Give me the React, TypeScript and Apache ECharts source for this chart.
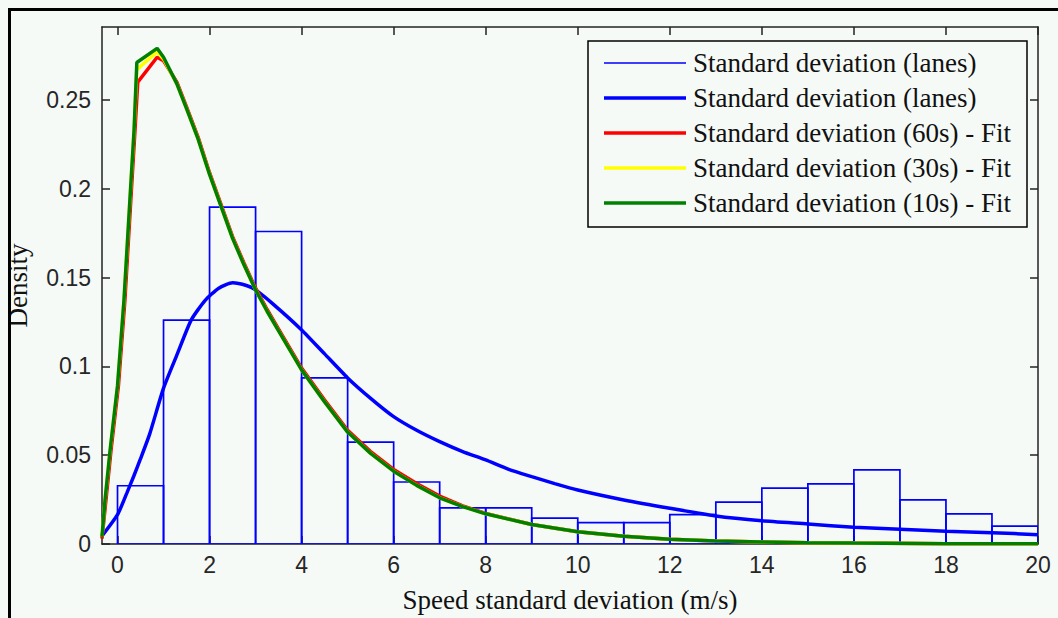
import React, { useEffect, useRef } from "react";
import * as echarts from "echarts";

// ---- data ----
const binStarts = [0, 1, 2, 3, 4, 5, 6, 7, 8, 9, 10, 11, 12, 13, 14, 15, 16, 17, 18, 19];
const binWidth = 1;
const binHeights = [
  0.0328, 0.126, 0.1896, 0.1759, 0.0935, 0.0573, 0.0349, 0.0203, 0.0203, 0.0146,
  0.012, 0.012, 0.0165, 0.0236, 0.0314, 0.0338, 0.0417, 0.0248, 0.0169, 0.0101,
];

const laneFitX = [-0.337, 0, 0.2, 0.35, 0.5, 0.7, 1.0, 1.3, 1.6, 1.9, 2.2, 2.5, 2.8, 3.0, 3.4, 4.0, 4.5, 5, 5.5, 6, 6.5, 7, 7.5, 8, 8.5, 9, 9.5, 10, 11, 12, 13, 14, 15, 16, 17, 18, 19, 20];
const laneFitY = [0.0045, 0.0165, 0.0285, 0.038, 0.048, 0.062, 0.0877, 0.107, 0.126, 0.137, 0.144, 0.147, 0.1455, 0.143, 0.1346, 0.1205, 0.107, 0.0935, 0.082, 0.0717, 0.064, 0.0576, 0.052, 0.0473, 0.042, 0.0379, 0.034, 0.0304, 0.0248, 0.0201, 0.0158, 0.0131, 0.0113, 0.0094, 0.0083, 0.0072, 0.0064, 0.0052];

const fitX = [-0.337, -0.27, -0.16, 0.0, 0.14, 0.27, 0.36, 0.42, 0.86, 1.0, 1.29, 1.5, 1.75, 2.0, 2.25, 2.5, 2.75, 3.0, 3.25, 3.5, 3.75, 4.0, 4.5, 5.0, 5.5, 6.0, 6.5, 7.0, 7.5, 8.0, 9.0, 10, 11, 12, 13, 14, 15, 16, 18, 20];
const fit10sY = [0.004, 0.025, 0.053, 0.089, 0.137, 0.194, 0.233, 0.271, 0.279, 0.274, 0.259, 0.245, 0.228, 0.208, 0.19, 0.172, 0.157, 0.143, 0.131, 0.12, 0.109, 0.098, 0.08, 0.063, 0.051, 0.041, 0.033, 0.026, 0.021, 0.017, 0.011, 0.0069, 0.0043, 0.0027, 0.0017, 0.0011, 0.0007, 0.0005, 0.0002, 0.0001];
const fit30sY = [0.004, 0.025, 0.053, 0.089, 0.137, 0.194, 0.233, 0.267, 0.277, 0.273, 0.259, 0.245, 0.228, 0.208, 0.19, 0.172, 0.157, 0.143, 0.131, 0.12, 0.109, 0.098, 0.08, 0.063, 0.051, 0.041, 0.033, 0.026, 0.021, 0.017, 0.011, 0.0069, 0.0043, 0.0027, 0.0017, 0.0011, 0.0007, 0.0005, 0.0002, 0.0001];
const fit60sX = [-0.337, -0.25, -0.14, 0.02, 0.16, 0.29, 0.38, 0.44, 0.86, 1.0, 1.29, 1.5, 1.75, 2.0, 2.25, 2.5, 2.75, 3.0, 3.25, 3.5, 3.75, 4.0, 4.5, 5.0, 5.5, 6.0, 6.5, 7.0, 7.5, 8.0, 9.0, 10, 11, 12, 13, 14, 15, 16, 18, 20];
const fit60sY = [0.003, 0.025, 0.053, 0.089, 0.137, 0.194, 0.233, 0.26, 0.274, 0.272, 0.26, 0.246, 0.229, 0.209, 0.191, 0.173, 0.158, 0.144, 0.132, 0.121, 0.11, 0.099, 0.081, 0.064, 0.052, 0.042, 0.034, 0.027, 0.0215, 0.0172, 0.011, 0.0069, 0.0043, 0.0027, 0.0017, 0.0011, 0.0007, 0.0005, 0.0002, 0.0001];

const xTicks = [0, 2, 4, 6, 8, 10, 12, 14, 16, 18, 20];
const yTicks = [0, 0.05, 0.1, 0.15, 0.2, 0.25];
const xRange = [-0.337, 20];
const yRange = [0, 0.291];

const legendLabels = [
  "Standard deviation (lanes)",
  "Standard deviation (lanes)",
  "Standard deviation (60s) - Fit",
  "Standard deviation (30s) - Fit",
  "Standard deviation (10s) - Fit",
];
const xAxisTitle = "Speed standard deviation (m/s)";
const yAxisTitle = "Density";

// ---- styles ----
const legendColors = ["#0000ff", "#0000ff", "#ff0000", "#ffff00", "#008000"];
const legendWidths = [1.7, 3.5, 3.5, 3.5, 3.5];
const BG = "#f6faf7";
const SERIF = '"Liberation Serif", serif';
const SANS = '"Liberation Sans", sans-serif';

const zip = (xs: number[], ys: number[]) => xs.map((x, i) => [x, ys[i]]);

export default function App() {
  const ref = useRef<HTMLDivElement>(null);
  useEffect(() => {
    if (!ref.current) return;
    const chart = echarts.init(ref.current, null, { renderer: "svg" });

    const axisLineStyle = { color: "#222", width: 1.5 };
    const tickStyle = { color: "#222", width: 1.5 };

    const legendTop = 41;
    const rowY0 = 63;
    const rowGap = 35;
    const legendChildren: any[] = [
      {
        type: "rect",
        shape: { x: 588, y: legendTop, width: 439, height: 186 },
        style: { fill: BG, stroke: "#000", lineWidth: 1.5 },
      },
    ];
    legendLabels.forEach((lab, i) => {
      const y = rowY0 + i * rowGap;
      legendChildren.push({
        type: "line",
        shape: { x1: 604, y1: y, x2: 686, y2: y },
        style: { stroke: legendColors[i], lineWidth: legendWidths[i] },
      });
      legendChildren.push({
        type: "text",
        x: 693,
        y: y,
        style: {
          text: lab,
          fill: "#111",
          fontSize: 27,
          fontFamily: SERIF,
          verticalAlign: "middle",
          align: "left",
        },
      });
    });

    const option: any = {
      animation: false,
      backgroundColor: BG,
      grid: { left: 102, right: 20, top: 27, bottom: 74, containLabel: false, outerBoundsMode: "none" },
      xAxis: [
        {
          type: "value",
          min: xRange[0],
          max: xRange[1],
          position: "bottom",
          name: xAxisTitle,
          nameLocation: "middle",
          nameGap: 42,
          nameTextStyle: { fontFamily: SERIF, fontSize: 27, color: "#111" },
          axisLine: { show: true, onZero: false, lineStyle: axisLineStyle },
          axisTick: { show: true, inside: true, length: 8, customValues: xTicks, lineStyle: tickStyle },
          axisLabel: { show: true, customValues: xTicks, margin: 9, fontFamily: SANS, fontSize: 23, color: "#262626" },
          splitLine: { show: false },
        },
        {
          type: "value",
          min: xRange[0],
          max: xRange[1],
          position: "top",
          axisLine: { show: true, onZero: false, lineStyle: axisLineStyle },
          axisTick: { show: true, inside: true, length: 8, customValues: xTicks, lineStyle: tickStyle },
          axisLabel: { show: false },
          splitLine: { show: false },
        },
      ],
      yAxis: [
        {
          type: "value",
          min: yRange[0],
          max: yRange[1],
          position: "left",
          name: yAxisTitle,
          nameLocation: "middle",
          nameGap: 71,
          nameTextStyle: { fontFamily: SERIF, fontSize: 27, color: "#111" },
          axisLine: { show: true, onZero: false, lineStyle: axisLineStyle },
          axisTick: { show: true, inside: true, length: 8, customValues: yTicks, lineStyle: tickStyle },
          axisLabel: { show: true, customValues: yTicks, margin: 11, fontFamily: SANS, fontSize: 23, color: "#262626" },
          splitLine: { show: false },
        },
        {
          type: "value",
          min: yRange[0],
          max: yRange[1],
          position: "right",
          axisLine: { show: true, onZero: false, lineStyle: axisLineStyle },
          axisTick: { show: true, inside: true, length: 8, customValues: yTicks, lineStyle: tickStyle },
          axisLabel: { show: false },
          splitLine: { show: false },
        },
      ],
      series: [
        {
          type: "custom",
          name: legendLabels[0],
          xAxisIndex: 0,
          yAxisIndex: 0,
          clip: true,
          z: 2,
          encode: { x: [0, 1], y: 2 },
          data: binStarts.map((s, i) => [s, s + binWidth, binHeights[i]]),
          renderItem: (params: any, api: any) => {
            const p0 = api.coord([api.value(0), api.value(2)]);
            const p1 = api.coord([api.value(1), 0]);
            return {
              type: "rect",
              shape: { x: p0[0], y: p0[1], width: p1[0] - p0[0], height: p1[1] - p0[1] },
              style: { fill: "none", stroke: "#0000ff", lineWidth: 1.7 },
            };
          },
        },
        {
          type: "line",
          name: legendLabels[1],
          data: zip(laneFitX, laneFitY),
          symbol: "none",
          smooth: 0.2,
          z: 3,
          lineStyle: { color: "#0000ff", width: 3.5 },
        },
        {
          type: "line",
          name: legendLabels[2],
          data: zip(fit60sX, fit60sY),
          symbol: "none",
          z: 4,
          lineStyle: { color: "#ff0000", width: 3.5 },
        },
        {
          type: "line",
          name: legendLabels[3],
          data: zip(fitX, fit30sY),
          symbol: "none",
          z: 5,
          lineStyle: { color: "#ffff00", width: 3.5 },
        },
        {
          type: "line",
          name: legendLabels[4],
          data: zip(fitX, fit10sY),
          symbol: "none",
          z: 6,
          lineStyle: { color: "#008000", width: 3.5 },
        },
      ],
      graphic: [
        { type: "rect", z: 100, shape: { x: 8, y: 8, width: 1050, height: 3 }, style: { fill: "#000" } },
        { type: "rect", z: 100, shape: { x: 8, y: 8, width: 3, height: 610 }, style: { fill: "#000" } },
        { type: "group", z: 100, children: legendChildren },
      ],
    };
    chart.setOption(option);
    return () => chart.dispose();
  }, []);
  return (
    <div
      ref={ref}
      style={{ position: "fixed", left: 0, top: 0, width: 1058, height: 618 }}
    />
  );
}
